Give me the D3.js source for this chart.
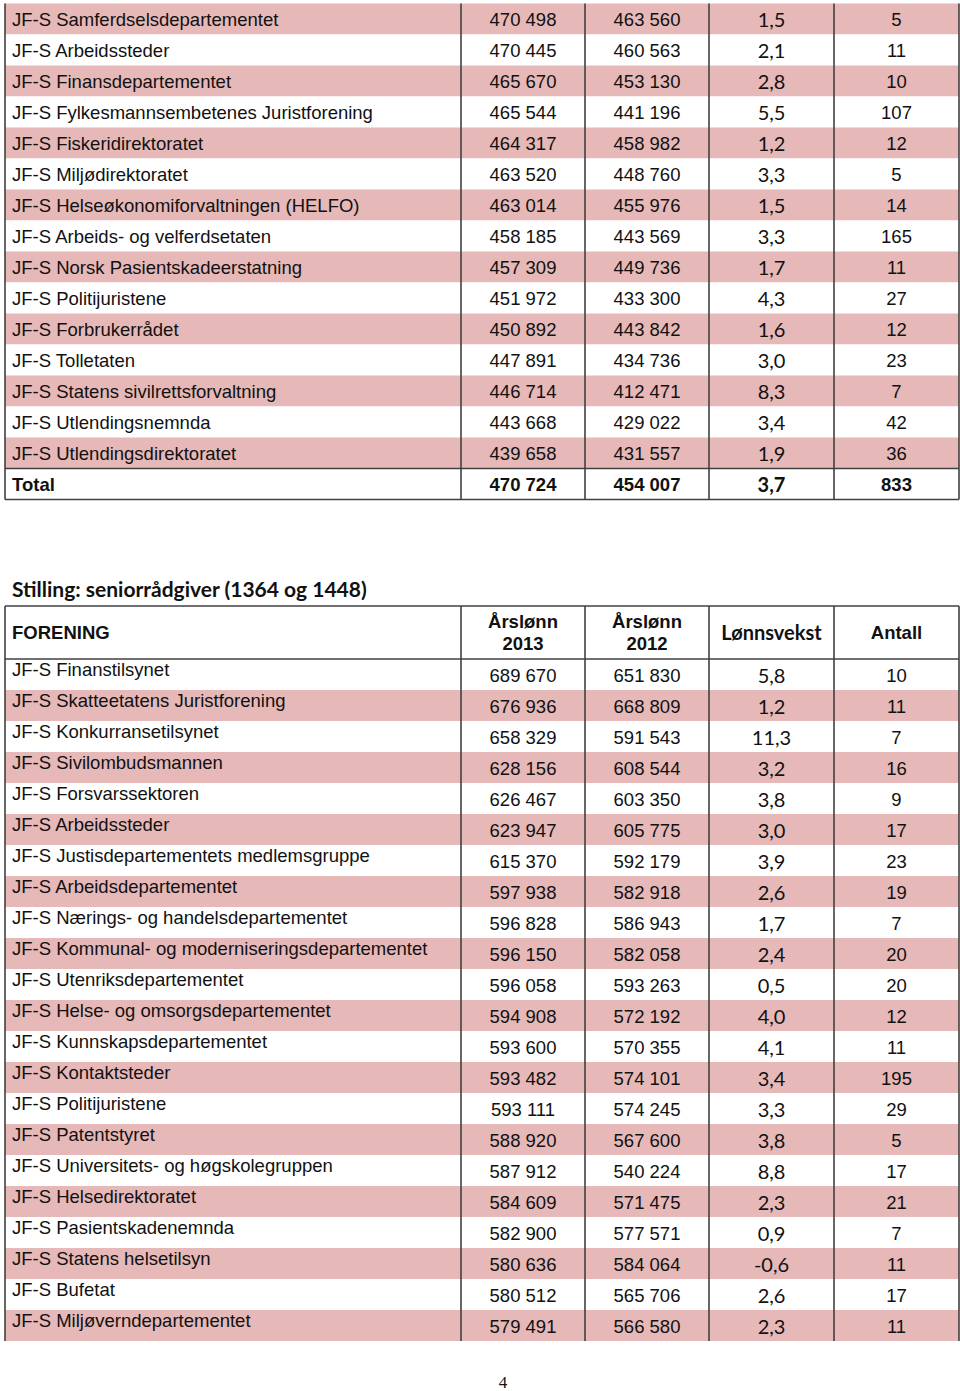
<!DOCTYPE html>
<html>
<head>
<meta charset="utf-8">
<script src="https://cdn.jsdelivr.net/npm/d3@7"></script>
<style>
  body { margin: 0; background: #fff; }
</style>
</head>
<body>
<div id="page"></div>
<script>
// ---- Data: table 1 (continued from previous page) ----
var names1 = [
  "JF-S Samferdselsdepartementet", "JF-S Arbeidssteder", "JF-S Finansdepartementet",
  "JF-S Fylkesmannsembetenes Juristforening", "JF-S Fiskeridirektoratet", "JF-S Miljødirektoratet",
  "JF-S Helseøkonomiforvaltningen (HELFO)", "JF-S Arbeids- og velferdsetaten",
  "JF-S Norsk Pasientskadeerstatning", "JF-S Politijuristene", "JF-S Forbrukerrådet",
  "JF-S Tolletaten", "JF-S Statens sivilrettsforvaltning", "JF-S Utlendingsnemnda",
  "JF-S Utlendingsdirektoratet"
];
var lonn2013_1 = [470498, 470445, 465670, 465544, 464317, 463520, 463014, 458185, 457309, 451972, 450892, 447891, 446714, 443668, 439658];
var lonn2012_1 = [463560, 460563, 453130, 441196, 458982, 448760, 455976, 443569, 449736, 433300, 443842, 434736, 412471, 429022, 431557];
var vekst1 = [1.5, 2.1, 2.8, 5.5, 1.2, 3.3, 1.5, 3.3, 1.7, 4.3, 1.6, 3.0, 8.3, 3.4, 1.9];
var antall1 = [5, 11, 10, 107, 12, 5, 14, 165, 11, 27, 12, 23, 7, 42, 36];
var total1 = { name: "Total", lonn2013: 470724, lonn2012: 454007, vekst: 3.7, antall: 833 };

// ---- Data: table 2 ----
var title2 = "Stilling: seniorrådgiver (1364 og 1448)";
var headers2 = ["FORENING", "Årslønn\n2013", "Årslønn\n2012", "Lønnsvekst", "Antall"];
var names2 = [
  "JF-S Finanstilsynet", "JF-S Skatteetatens Juristforening", "JF-S Konkurransetilsynet",
  "JF-S Sivilombudsmannen", "JF-S Forsvarssektoren", "JF-S Arbeidssteder",
  "JF-S Justisdepartementets medlemsgruppe", "JF-S Arbeidsdepartementet",
  "JF-S Nærings- og handelsdepartementet", "JF-S Kommunal- og moderniseringsdepartementet",
  "JF-S Utenriksdepartementet", "JF-S Helse- og omsorgsdepartementet",
  "JF-S Kunnskapsdepartementet", "JF-S Kontaktsteder", "JF-S Politijuristene",
  "JF-S Patentstyret", "JF-S Universitets- og høgskolegruppen", "JF-S Helsedirektoratet",
  "JF-S Pasientskadenemnda", "JF-S Statens helsetilsyn", "JF-S Bufetat",
  "JF-S Miljøverndepartementet"
];
var lonn2013_2 = [689670, 676936, 658329, 628156, 626467, 623947, 615370, 597938, 596828, 596150, 596058, 594908, 593600, 593482, 593111, 588920, 587912, 584609, 582900, 580636, 580512, 579491];
var lonn2012_2 = [651830, 668809, 591543, 608544, 603350, 605775, 592179, 582918, 586943, 582058, 593263, 572192, 570355, 574101, 574245, 567600, 540224, 571475, 577571, 584064, 565706, 566580];
var vekst2 = [5.8, 1.2, 11.3, 3.2, 3.8, 3.0, 3.9, 2.6, 1.7, 2.4, 0.5, 4.0, 4.1, 3.4, 3.3, 3.8, 8.8, 2.3, 0.9, -0.6, 2.6, 2.3];
var antall2 = [10, 11, 7, 16, 9, 17, 23, 19, 7, 20, 20, 12, 11, 195, 29, 5, 17, 21, 7, 11, 17, 11];
var pageNumber = "4";

// ---- Layout ----
var width = 960, height = 1391;
var colEdges = [5, 461, 585, 709, 834, 959];
var rowH = 31;
var pink = "#e6b8b7";
var lineColor = "#404040";
var arial = "'Liberation Sans', Arial, sans-serif";
var calibri = "Lato, 'Open Sans', sans-serif";
var fontSize = "18.5px";

var nf = d3.formatLocale({ decimal: ",", thousands: "\u00a0", grouping: [3], currency: ["", ""], minus: "-" });
var fmtInt = nf.format(",.0f");
var fmtDec = nf.format(",.1f");

var svg = d3.select("#page").append("svg")
  .attr("width", width)
  .attr("height", height);

// column centre for a column index
function colCenter(i) { return (colEdges[i] + colEdges[i + 1]) / 2; }

function rowsOf(names, a, b, v, n) {
  return names.map(function (d, i) {
    return { name: d, lonn2013: a[i], lonn2012: b[i], vekst: v[i], antall: n[i] };
  });
}

// Draw the body of a table
function drawRows(g, rows, y, opts) {
  var row = g.selectAll(".row")
    .data(rows)
    .enter().append("g")
    .attr("class", "row")
    .attr("transform", function (d, i) { return "translate(0," + y(i) + ")"; });

  row.append("rect")
    .attr("x", colEdges[0])
    .attr("y", 0)
    .attr("width", colEdges[5] - colEdges[0])
    .attr("height", y.bandwidth())
    .attr("fill", function (d, i) { return opts.pinkRow(d, i) ? pink : "#fff"; });

  var mid = y.bandwidth() / 2;

  row.append("text")
    .attr("x", 12)
    .attr("y", mid + opts.nameDy)
    .style("font-family", arial)
    .style("font-size", fontSize)
    .style("font-weight", function (d) { return d.bold ? "bold" : "normal"; })
    .attr("fill", "#111")
    .text(function (d) { return d.name; });

  [["lonn2013", fmtInt, 1], ["lonn2012", fmtInt, 2], ["antall", fmtInt, 4]].forEach(function (c) {
    row.append("text")
      .attr("x", colCenter(c[2]))
      .attr("y", mid + opts.numDy)
      .attr("text-anchor", "middle")
      .style("font-family", arial)
      .style("font-size", fontSize)
      .style("font-weight", function (d) { return d.bold ? "bold" : "normal"; })
      .attr("fill", "#111")
      .text(function (d) { return c[1](d[c[0]]); });
  });

  row.append("text")
    .attr("x", colCenter(3))
    .attr("y", mid + opts.numDy + 1)
    .attr("text-anchor", "middle")
    .style("font-family", calibri)
    .style("font-size", "20px")
    .style("font-weight", function (d) { return d.bold ? "bold" : "normal"; })
    .attr("fill", "#111")
    .text(function (d) { return fmtDec(d.vekst); });
}

function vLines(g, y0, y1) {
  g.selectAll(".vline")
    .data(colEdges)
    .enter().append("line")
    .attr("class", "vline")
    .attr("x1", function (d) { return d; })
    .attr("x2", function (d) { return d; })
    .attr("y1", y0)
    .attr("y2", y1)
    .attr("stroke", lineColor)
    .attr("stroke-width", 1.6);
}

function hLine(g, yy) {
  g.append("line")
    .attr("x1", colEdges[0])
    .attr("x2", colEdges[5])
    .attr("y1", yy)
    .attr("y2", yy)
    .attr("stroke", lineColor)
    .attr("stroke-width", 1.6);
}

//==================== Table 1 ====================//
var rows1 = rowsOf(names1, lonn2013_1, lonn2012_1, vekst1, antall1);
var t1 = Object.assign({ bold: true }, total1);
rows1.push(t1);

var y1 = d3.scaleBand()
  .domain(d3.range(rows1.length))
  .range([3.5, 3.5 + rows1.length * rowH])
  .paddingInner(0);

var table1 = svg.append("g");
drawRows(table1, rows1, y1, {
  pinkRow: function (d, i) { return !d.bold && i % 2 === 0; },
  nameDy: 7, numDy: 7
});
vLines(table1, y1(0), y1.range()[1]);
hLine(table1, y1(rows1.length - 1));
hLine(table1, y1.range()[1]);

//==================== Table 2 ====================//
svg.append("text")
  .attr("x", 12)
  .attr("y", 597)
  .style("font-family", calibri)
  .style("font-size", "21px")
  .style("font-weight", "bold")
  .attr("fill", "#111")
  .text(title2);

var headTop = 606, headBottom = 659;
var rows2 = rowsOf(names2, lonn2013_2, lonn2012_2, vekst2, antall2);

var y2 = d3.scaleBand()
  .domain(d3.range(rows2.length))
  .range([headBottom, headBottom + rows2.length * rowH]);

var table2 = svg.append("g");
drawRows(table2, rows2, y2, {
  pinkRow: function (d, i) { return i % 2 === 1; },
  nameDy: 1.5, numDy: 7.5
});

// header
var head = table2.append("g");
headers2.forEach(function (h, i) {
  var lines = h.split("\n");
  var isCal = h === "Lønnsvekst";
  var t = head.append("text")
    .attr("text-anchor", i === 0 ? "start" : "middle")
    .attr("x", i === 0 ? 12 : colCenter(i))
    .attr("y", lines.length > 1 ? 627.5 : (isCal ? 639.5 : 638.5))
    .style("font-family", isCal ? calibri : arial)
    .style("font-size", isCal ? "20px" : fontSize)
    .style("font-weight", "bold")
    .attr("fill", "#111");
  lines.forEach(function (l, k) {
    t.append("tspan")
      .attr("x", i === 0 ? 12 : colCenter(i))
      .attr("dy", k === 0 ? 0 : 22)
      .text(l);
  });
});

vLines(table2, headTop, y2.range()[1]);
hLine(table2, headTop);
hLine(table2, headBottom);

// page number
svg.append("text")
  .attr("x", 503)
  .attr("y", 1388)
  .attr("text-anchor", "middle")
  .style("font-family", "'Liberation Serif', 'DejaVu Serif', serif")
  .style("font-size", "17px")
  .attr("fill", "#111")
  .text(pageNumber);
</script>
</body>
</html>
